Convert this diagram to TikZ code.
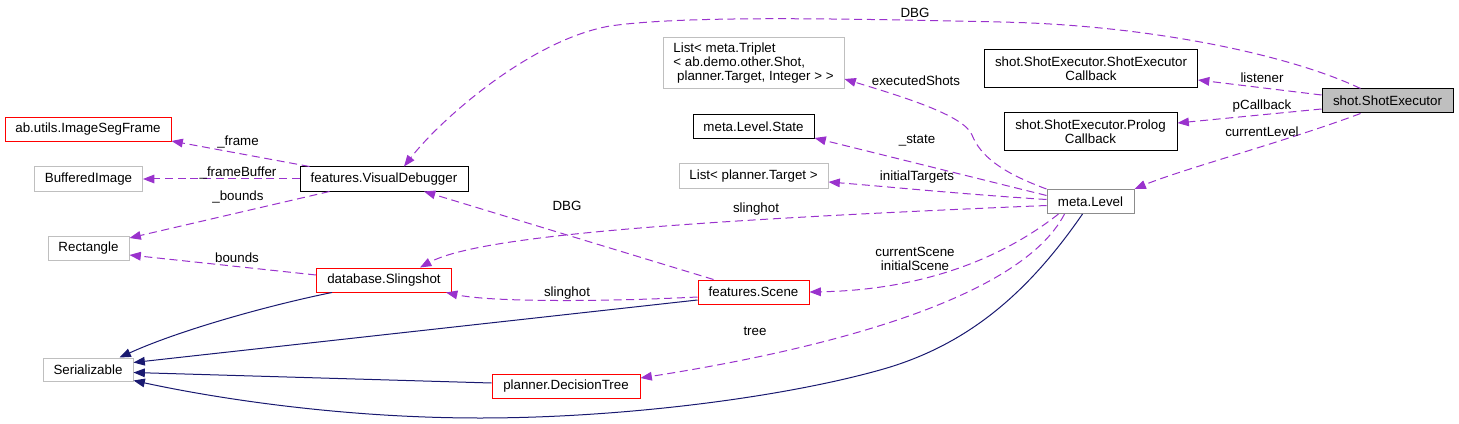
\documentclass[tikz,border=0pt]{standalone}
\usepackage{fontspec}
\setmainfont{Liberation Sans}
\usetikzlibrary{arrows.meta,calc}
\definecolor{depc}{HTML}{9A32CD}
\definecolor{inhc}{HTML}{191970}
\definecolor{lgray}{HTML}{BFBFBF}
\definecolor{mgray}{HTML}{8C8C8C}
\definecolor{bred}{HTML}{FF0000}
\begin{document}
\begin{tikzpicture}[x=0.75pt,y=-0.75pt,
  box/.style={draw=black, line width=0.75pt, inner sep=0pt, align=center,
    font=\fontsize{10}{10.5}\selectfont, minimum height=18pt},
  redbox/.style={box, draw=bred},
  graybox/.style={box, draw=lgray},
  lbl/.style={inner sep=0pt, align=center, font=\fontsize{10}{10.5}\selectfont},
  dep/.style={draw=depc, line width=0.75pt, dash pattern=on 6pt off 3.5pt,
    -{Triangle[length=8.5pt,width=6.5pt]}},
  inh/.style={draw=inhc, line width=0.75pt,
    -{Triangle[length=8.5pt,width=6.5pt]}}]
\useasboundingbox (0,0) rectangle (1459,424);

% nodes
\node[redbox, minimum width=124.5pt] (isf) at (88,129.5) {ab.utils.ImageSegFrame};
\node[graybox, minimum width=81pt] (bi) at (88.5,179) {BufferedImage};
\node[graybox, minimum width=60.75pt] (rect) at (88.5,248) {Rectangle};
\node[graybox, minimum width=67.5pt, minimum height=17.25pt] (ser) at (88,369.5) {Serializable};
\node[box, minimum width=126pt] (vd) at (384,179) {features.VisualDebugger};
\node[redbox, minimum width=101.25pt] (sl) at (384,280) {database.Slingshot};
\node[redbox, minimum width=83.25pt] (sc) at (753.5,292) {features.Scene};
\node[redbox, minimum width=111pt] (dt) at (566,386) {planner.DecisionTree};
\node[box, draw=mgray, minimum width=65.25pt] (ml) at (1090.5,201.5) {meta.Level};
\node[box, fill=lgray, minimum width=98.25pt] (se) at (1387.5,101) {shot.ShotExecutor};
\node[box, minimum width=159.75pt, minimum height=28.5pt] (sec) at (1091,69) {shot.ShotExecutor.ShotExecutor\\Callback};
\node[box, minimum width=129.75pt, minimum height=28.5pt] (pc) at (1090.5,132) {shot.ShotExecutor.Prolog\\Callback};
\node[graybox, align=left, minimum width=135.75pt, minimum height=38.25pt] (trip) at (753.5,63.5) {List< meta.Triplet\\< ab.demo.other.Shot,\\\ planner.Target, Integer > >};
\node[box, minimum width=90.75pt] (st) at (753.5,127) {meta.Level.State};
\node[graybox, minimum width=111.75pt] (lt) at (753.5,176) {List< planner.Target >};

% inheritance edges
\draw[inh] ($(sl.south west)+(16,0)$) .. controls (270,305) and (180,330) .. ($(ser.north east)+(-14,0)$);
\draw[inh] ($(sc.west)+(0,8)$) -- ($(ser.east)+(0,-7)$);
\draw[inh] ($(dt.west)+(0,-3)$) -- ($(ser.east)+(0,3)$);
\draw[inh] ($(ml.south)+(-8,0)$) .. controls (1030,290) and (970,345) .. (880,370)
  .. controls (780,398) and (620,418) .. (480,418)
  .. controls (330,418) and (200,395) .. ($(ser.east)+(0,11)$);

% dependency edges
\draw[dep] ($(se.north)+(-27,0)$) .. controls (1290,55) and (1150,25) .. (1000,22)
  .. controls (820,18) and (680,16) .. (610,26)
  .. controls (530,40) and (440,120) .. ($(vd.north)+(20,0)$);
\node[lbl] (l1) at (915,13) {DBG};

\draw[dep] ($(se.west)+(0,-6)$) -- ($(sec.east)+(0,11)$);
\node[lbl] (l2) at (1262,78) {listener};
\draw[dep] ($(se.west)+(0,8)$) -- ($(pc.east)+(0,-9)$);
\node[lbl] (l3) at (1262,106) {pCallback};
\draw[dep] ($(se.south)+(-27,0)$) .. controls (1290,140) and (1180,170) .. (ml.north east);
\node[lbl] (l4) at (1262,132) {currentLevel};

\draw[dep] (ml.north west) .. controls (1000,172) and (980,155) .. (972,135)
  .. controls (964,115) and (900,96) .. ($(trip.east)+(0,15.5)$);
\node[lbl] (l5) at (916,81) {executedShots};
\draw[dep] ($(ml.west)+(0,-6)$) -- ($(st.east)+(0,11)$);
\node[lbl] (l6) at (917,141) {\_state};
\draw[dep] ($(ml.west)+(0,-2)$) .. controls (960,194) and (880,186) .. ($(lt.east)+(0,6)$);
\node[lbl] (l7) at (917,177) {initialTargets};
\draw[dep] ($(ml.west)+(0,4)$) .. controls (700,220) and (480,235) .. ($(sl.north)+(36,0)$);
\node[lbl] (l8) at (756,209) {slinghot};
\draw[dep] ($(ml.south west)+(12,0)$) .. controls (1000,260) and (920,290) .. (sc.east);
\node[lbl] (l9) at (915,259) {currentScene\\initialScene};
\draw[dep] ($(ml.south west)+(18,0)$) .. controls (1020,300) and (820,350) .. ($(dt.east)+(0,-8)$);
\node[lbl] (l10) at (755,331) {tree};

\draw[dep] ($(sc.north)+(-40,0)$) -- ($(vd.south)+(40,0)$);
\node[lbl] (l11) at (567,206) {DBG};
\draw[dep] ($(sc.west)+(0,5)$) .. controls (600,302) and (490,302) .. ($(sl.south east)+(-6,0)$);
\node[lbl] (l12) at (567,293) {slinghot};

\draw[dep] ($(vd.north west)+(10,0)$) -- ($(isf.south east)+(0,-1)$);
\node[lbl] (l13) at (238,142) {\_frame};
\draw[dep] (vd.west) -- (bi.east);
\node[lbl] (l14) at (238,173) {\_frameBuffer};
\draw[dep] ($(vd.south west)+(30,0)$) -- ($(rect.east)+(0,-10)$);
\node[lbl] (l15) at (238,197) {\_bounds};
\draw[dep] ($(sl.west)+(0,-5)$) -- ($(rect.east)+(0,7)$);
\node[lbl] (l16) at (237,258) {bounds};
\end{tikzpicture}
\end{document}
